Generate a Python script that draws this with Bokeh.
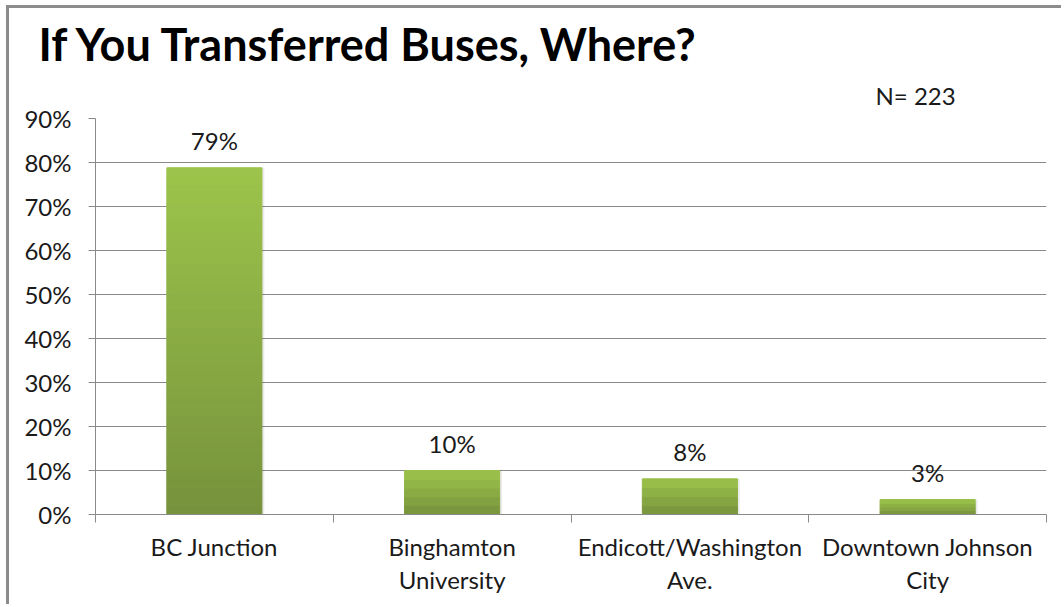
from bokeh.plotting import figure
from bokeh.models import FixedTicker, Title, ColumnDataSource, Range1d
from bokeh.core.properties import value
from bokeh.embed import file_html
from bokeh.resources import INLINE

# ---- data ----
categories = ["BC Junction", "Binghamton\nUniversity", "Endicott/Washington\nAve.", "Downtown Johnson\nCity"]
percents = [78.8, 10.0, 8.1, 3.4]
value_labels = ["79%", "10%", "8%", "3%"]
y_ticks = [0, 10, 20, 30, 40, 50, 60, 70, 80, 90]
y_tick_labels = ["0%", "10%", "20%", "30%", "40%", "50%", "60%", "70%", "80%", "90%"]
title_text = "If You Transferred Buses, Where?"
n_text = "N= 223"

FONT = "Lato"
TEXT_COLOR = "#1a1a1a"
GRID = "#8a8a8a"
LABEL_SIZE = "24px"

p = figure(width=1055, height=599, output_backend="svg", toolbar_location=None,
           x_range=Range1d(0, len(categories)), y_range=Range1d(0, 90),
           min_border_left=86, min_border_right=18, min_border_top=110, min_border_bottom=93)
p.styles = {"margin-top": "5px", "margin-left": "6px",
            "border-top": "3px solid #8c8c8c", "border-left": "3px solid #8c8c8c"}
p.outline_line_color = None
p.border_fill_color = "white"
p.background_fill_color = "white"

# ---- gradient bars (stacked slices per bar) ----
dark = (0x76, 0x92, 0x3c)
light = (0x9d, 0xc4, 0x4b)
xs, bots, tops, cols = [], [], [], []
for i, v in enumerate(percents):
    n = max(4, int(round(v / 2)))
    for k in range(n):
        t = (k + 0.5) / n
        c = tuple(int(round(dark[j] + (light[j] - dark[j]) * t)) for j in range(3))
        xs.append(i + 0.5)
        bots.append(v * k / n)
        tops.append(v * (k + 1) / n)
        cols.append("#%02x%02x%02x" % c)

centers = [i + 0.5 for i in range(len(categories))]
# soft shadow
p.vbar(x=[c + 0.01 for c in centers], top=percents, bottom=[-0.4] * len(percents), width=0.4,
       fill_color="#000000", fill_alpha=0.08, line_color=None)
p.vbar(x=xs, bottom=bots, top=tops, width=0.4, fill_color=cols, line_color=cols, line_width=1)

# value labels
src = ColumnDataSource(dict(x=centers, y=percents, t=value_labels))
p.text(x="x", y="y", text="t", source=src, text_align="center", text_baseline="alphabetic",
       y_offset=-27, text_font=value(FONT), text_font_size=LABEL_SIZE, text_color=TEXT_COLOR)

# ---- axes ----
p.xgrid.grid_line_color = None
p.ygrid.ticker = FixedTicker(ticks=y_ticks)
p.ygrid.grid_line_color = GRID
p.ygrid.grid_line_width = 1

ya = p.yaxis[0]
ya.ticker = FixedTicker(ticks=y_ticks, minor_ticks=[])
ya.major_label_overrides = {t: l for t, l in zip(y_ticks, y_tick_labels)}
ya.axis_line_color = GRID
ya.major_tick_line_color = GRID
ya.major_tick_out = 7
ya.major_tick_in = 0
ya.minor_tick_line_color = None
ya.major_label_standoff = 17
ya.major_label_text_font = FONT
ya.major_label_text_font_size = LABEL_SIZE
ya.major_label_text_color = TEXT_COLOR

xa = p.xaxis[0]
xa.ticker = FixedTicker(ticks=centers, minor_ticks=list(range(len(categories) + 1)))
xa.major_label_overrides = {c: l for c, l in zip(centers, categories)}
xa.axis_line_color = GRID
xa.major_tick_line_color = None
xa.minor_tick_line_color = GRID
xa.minor_tick_out = 8
xa.minor_tick_in = 0
xa.major_label_standoff = 9
xa.major_label_text_font = FONT
xa.major_label_text_font_size = LABEL_SIZE
xa.major_label_text_color = TEXT_COLOR
xa.major_label_text_line_height = 1.15

# ---- title and N (stacked above the frame) ----
p.add_layout(Title(text=n_text, align="left", offset=780, standoff=17,
                   text_font=FONT, text_font_style="normal", text_font_size=LABEL_SIZE,
                   text_color=TEXT_COLOR), "above")
p.add_layout(Title(text=title_text, align="left", offset=-57, standoff=0,
                   text_font=FONT, text_font_style="bold", text_font_size="45px",
                   text_line_height=0.8, text_color="#000000"), "above")

open("out.html", "w").write(file_html(p, INLINE))
